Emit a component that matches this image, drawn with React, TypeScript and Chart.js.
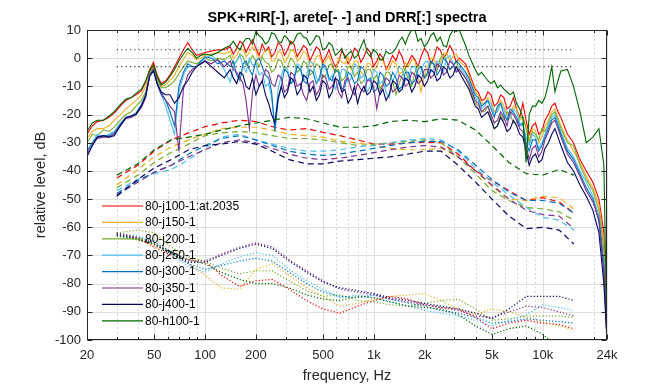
import React, { useEffect, useRef } from "react";
import { Chart, registerables } from "chart.js";

Chart.register(...registerables);

const FONT = "'Liberation Sans', Arial, Helvetica, sans-serif";
const W = 672;
const H = 384;
const CHART_LEFT = 87;
const CHART_RIGHT = 607;
const CHART_TOP = 30;
const CHART_BOTTOM = 340;

const TITLE = "SPK+RIR[-], arete[- -] and DRR[:] spectra";
const X_LABEL = "frequency, Hz";
const Y_LABEL = "relative level, dB";

const NAMES = ["80-j100-1:at.2035", "80-j150-1", "80-j200-1", "80-j250-1", "80-j300-1", "80-j350-1", "80-j400-1", "80-h100-1"];
const COLORS = ["#f00000", "#edb120", "#77ac30", "#4dbeee", "#0072bd", "#7e2f8e", "#05055e", "#006400"];

const X_TICKS = [20, 50, 100, 200, 500, 1000, 2000, 5000, 10000, 24000];
const X_TICK_LABELS = ["20", "50", "100", "200", "500", "1k", "2k", "5k", "10k", "24k"];
const X_MINOR = [30, 40, 60, 70, 80, 90, 300, 400, 600, 700, 800, 900, 3000, 4000, 6000, 7000, 8000, 9000, 20000];
const Y_TICKS = [-100, -90, -80, -70, -60, -50, -40, -30, -20, -10, 0, 10];

// solid (SPK+RIR) spectra: frequencies (low 29, mid 73, high 39)
const F_LOW = [20, 21.5, 23, 25, 27, 29, 31.5, 34, 36.5, 39, 42, 44.5, 47, 49.5, 52, 55, 58.5, 62, 66, 70, 74.5, 79, 84, 89, 94.5, 100, 109, 119, 130];
const F_MID = [
  141, 147, 154, 161, 168, 175, 183, 191, 200, 209,
  218, 228, 238, 248, 259, 271, 283, 295, 308, 322,
  336, 351, 367, 383, 400, 418, 436, 456, 476, 497,
  519, 542, 566, 591, 617, 645, 673, 703, 734, 767,
  800, 836, 873, 912, 952, 995, 1040, 1085, 1130, 1180,
  1230, 1290, 1350, 1410, 1470, 1535, 1600, 1675, 1750, 1825,
  1900, 1990, 2080, 2170, 2260, 2365, 2470, 2580, 2690, 2815,
  2940, 3070, 3200,
];
const F_HIGH = [
  3490, 3650, 3810, 3980, 4150, 4340, 4530, 4730, 4940, 5160,
  5390, 5630, 5880, 6140, 6410, 6700, 6990, 7300, 7620, 7960,
  8310, 8680, 9060, 9460, 9880, 10300, 10800, 11300, 11800, 12300,
  12800, 14000, 15200, 16600, 18100, 19800, 21500, 23000, 24000,
];
const F_SOLID = [...F_LOW, ...F_MID, ...F_HIGH];

const SPK_J100 = [
  -27, -24, -22.5, -22, -21, -19.5, -17, -15, -14, -13, -11.5, -8.5, -4, -1.5, -6, -9, -8, -6, -3, 0, 3, 5.5, 3, 1, 1.5, 2, 2.5, 3, 3,
  4, 1.5, 3.5, 6, 5, 2, 4.5, 6.5, 3.5, 1,
  5, 2.5, 4, 0.5, 2, 5.5, 4.5, 1, 3, 6,
  5, 0.5, 2.5, 4.5, 3.5, -1, 1.5, 4, 3, -1.5,
  0.5, 3, -0.5, -3, -1.5, 2.5, 1, -2, 0, 3.5,
  2.5, -1.5, 0.5, 3.5, 2, -3, -1, 1.5, 0, -4,
  -2, 1, -1, 2.5, 0.5, -3.5, -1.5, 1, -0.5, -3,
  0.5, 3.5, 2, -2, 0, 4, 3, 0, 1.5, 4.5,
  2.5, -1.5, 0,
  -2, -5, -8, -11, -12, -15, -14.5, -12, -13, -17,
  -16, -13, -14, -18, -17, -14, -18, -21, -16, -22,
  -27, -24, -23, -27, -26, -22, -20, -17, -16, -19,
  -21, -27, -30, -36, -40, -44, -50, -62, -100,
];
const SPK_J150 = [
  -28.5, -26, -25, -25, -24, -22, -20, -18, -16.5, -15, -13, -10, -5, -3, -7, -10, -9.5, -8, -6, -3, -0.5, 2, 1, -0.5, 0, 1, 1.5, 2, 1.5,
  2.5, 0, 1, 3.5, 3, 0.5, 2, 4, 2.5, -0.5,
  1, 3, 3, -1, -1, 2.5, 2, -1.5, 0, 3,
  2.5, -1, 0, 2.5, 1.5, -3, -2.5, 0.5, 1, -2.5,
  -1, 1, -3, -5, 0, -1.5, -2, 0.5, -4, -1,
  -1, -5, -6, -2, -2, -4.5, -3, 0, -1, -3.5,
  -4, -1, -2, -5.5, -5, -1.5, -3, -0.5, -1, -6,
  -12, -6, -3, 0, 0, -3, -1.5, 1.5, 2, -1,
  0.5, 1.5, -1,
  -3, -6, -9, -12, -13, -16, -16, -14, -15, -19,
  -18, -15, -17, -20, -20, -17, -18, -22, -21, -24,
  -29, -25, -26, -30, -28, -24, -22, -19, -18, -21,
  -24, -29, -33, -37, -42, -46, -52, -66, -100,
];
const SPK_J200 = [
  -30, -27, -27.5, -25.5, -26, -24.5, -22, -20, -19, -17, -15, -12, -5.5, -3.5, -7.5, -10.5, -10.5, -9.5, -8, -5.5, -3, -1, -1.5, -2, -1, 0, -1, 0, -0.5,
  1, -2, -1, 1.5, 0.5, -2.5, -1.5, 1, -1, -3,
  0.5, -1.5, -2, -5, -4, -0.5, -1, -4.5, -3, 0,
  -1, -5, -4, -1, -2, -6, -5, -2, -3, -7,
  -6, -2.5, -2, -5, -4, -8, -7, -3, -3, -6.5,
  -5, -9, -8, -4, -4, -7.5, -6, -11, -9, -5,
  -5, -8, -13, -9, -6, -3.5, -8, -10, -5, -2.5,
  -3, -7, -6, -2, -2, -4.5, 0, 1.5, -1, -4,
  -3, -1, -4,
  -7, -10, -13, -16, -17, -19, -19, -17, -21, -25,
  -24, -20, -22, -19, -20, -23, -23, -21, -21, -25,
  -30, -26, -27, -29, -25, -26, -23, -20, -19, -22,
  -25, -30, -31, -38, -43, -47, -54, -68, -100,
];
const SPK_J250 = [
  -33, -30, -27, -28, -27, -26, -23, -21, -21, -19.5, -16.5, -13, -6, -4, -9, -13, -17, -22, -27, -12, -6, -3, -3, -3, -1.5, 0, 1, -1, -4,
  -8.5, -3, -1, 1, -3, -5, 0, -2.5, -2, -6,
  -5, -10, -9, -14, -24, -11, -6, -3, -4, -9,
  -7, -2, -3, -8, -6, -1, -2, -7, -8, -3,
  -4, -8, -6, -11, -9, -4, -4, -8.5, -7, -2,
  -3, -7, -6, -12, -10, -4, -5, -9, -8, -12,
  -14, -8, -6, -3, -4, -8, -7, -3, -3, -7,
  -5, -1.5, -1, -5, -4, -1, -2, -5, 0, 1,
  -2, -4.5, -3,
  -6, -8, -11, -14, -15, -18, -17, -15, -16, -20,
  -19, -16, -18, -22, -21, -18, -19, -23, -24, -28,
  -31, -27, -28, -32, -30, -27, -24, -21, -20, -23,
  -26, -32, -35, -40, -44, -49, -56, -72, -100,
];
const SPK_J300 = [
  -33, -30, -28, -27.5, -27.5, -26.5, -23.5, -21, -20.5, -19.5, -16.5, -13, -6, -4, -8.5, -12, -15, -19, -24, -10, -5, -2, -3, -3, -1, 0.5, 0, -2, -1,
  -3, -1, -6, -8, -2, -1, -4, -6, -1, 0,
  -3, -6, -7, -12, -26, -15, -10, -4, -5, -9,
  -8, -3, -4, -8, -9, -4, -5, -9, -7, -2,
  -3, -7, -8, -4, -5, -11, -10, -5, -6, -9,
  -8, -3, -4, -8, -7, -12, -11, -5, -6, -10,
  -9, -5, -7, -11, -10, -5, -5, -9, -8, -4,
  -3, -7, -5, -1, -2, -6, -4, 0, -1, -4,
  -3, -1, -2,
  -5, -7, -10, -13, -14, -17, -16, -15, -18, -21,
  -17, -16, -20, -22, -18, -19, -21, -24, -23, -30,
  -33, -29, -29, -33, -31, -28, -25, -22, -21, -24,
  -27, -33, -36, -41, -46, -50, -58, -76, -100,
];
const SPK_J350 = [
  -34, -31, -28.5, -28, -28, -27, -24, -21.5, -21, -20, -17.5, -14, -6, -4, -9, -13, -15, -17, -19, -33, -11, -6, -4, -3, -2, -1, -2, -0.5, -3,
  -1, -4, -5, -7, -9, -15, -25, -12, -6, -10,
  -8, -4, -5, -9, -10, -6, -7, -12, -11, -5,
  -6, -10, -9, -13, -15, -9, -8, -13, -11, -6,
  -7, -11, -10, -7, -12, -14, -8, -7, -11, -13,
  -9, -11, -12, -8, -8, -10, -18, -12, -10, -7,
  -8, -12, -11, -6, -7, -10, -9, -5, -6, -9,
  -8, -4, -4, -7, -6, -2, -3, -6, -5, -1,
  -2, -5, -4,
  -7, -9, -12, -15, -16, -19, -18, -17, -20, -23,
  -22, -19, -21, -24, -19, -20, -22, -25, -26, -31,
  -36, -32, -31, -35, -33, -29, -26, -23, -22, -25,
  -28, -34, -37, -42, -47, -51, -57, -74, -100,
];
const SPK_J400 = [
  -35, -31, -28, -27.5, -28, -27.5, -24, -21, -20.5, -20, -17, -13.5, -6.5, -4.5, -9, -12, -13, -13, -16, -14, -10, -8, -5, -3, -2, -1, -3, -5, -7,
  -4, -7, -9, -5, -6, -10, -11, -7, -13, -10,
  -8, -13, -16, -20, -23, -14, -10, -14, -12, -7,
  -8, -13, -11, -6, -7, -12, -10, -15, -13, -8,
  -9, -14, -12, -7, -8, -12, -11, -16, -14, -10,
  -16, -12, -10, -13, -12, -8, -9, -13, -11, -15,
  -13, -8, -9, -12, -11, -7, -8, -12, -10, -6,
  -7, -10, -8, -4, -5, -8, -7, -3, -4, -7,
  -6, -3, -5,
  -9, -11, -14, -17, -18, -21, -20, -19, -22, -25,
  -24, -21, -23, -26, -25, -22, -24, -27, -28, -33,
  -38, -35, -34, -37, -36, -32, -30, -27, -25, -28,
  -31, -37, -40, -45, -49, -54, -62, -80, -100,
];
const SPK_H100 = [
  -26, -23, -22, -22, -20.5, -19, -16.5, -14.5, -14, -12.5, -11, -8, -4.5, -2.5, -6.5, -9.5, -8.5, -6.5, -4, -1, 1.5, 3.5, 2, 0, 1, 1.5, 1, 2, 3.5,
  4.5, 6, 4, 3, 5.5, 7, 7, 5, 9.5, 8,
  7, 5, 6, 9, 8.5, 6, 5.5, 8, 7, 5,
  6, 8.5, 9, 7.5, 7, 4.5, 6, 8, 7.5, 3,
  3.5, 5.5, 4.5, 1, 2, 3.5, 0, 1.5, 2.5, 0,
  1, 4, 6.5, 2, 0.5, 3, 2, -0.5, -0.5, 2.5,
  1.5, 2, 3.5, 6, 7.5, 5, 8, 10, 10, 6,
  7, 4, 5.5, 8, 9, 6, 7.5, 4.5, 4, 8,
  10, 9.5, 10,
  4.5, 1, -1.5, -4, -6, -5, -6.5, -8, -9, -8,
  -10.5, -9.5, -11, -12, -13, -12, -16, -18, -21, -37,
  -20, -17, -17, -15, -16, -14, -9, -3, -12, -8,
  -4.5, -4, -10, -19, -30, -28, -25, -38, -100,
];

// dashed (arete) and dotted (DRR) spectra, third-octave bands
const F_BANDS = [30, 40, 50, 63, 80, 100, 125, 160, 200, 250, 315, 400, 500, 630, 800, 1000, 1250, 1600, 2000, 2500, 3150, 4000, 5000, 6300, 8000, 10000, 12500, 15300];

const ARETE_J100 = [-42.5, -38, -33, -29, -26.5, -24.3, -23, -22, -22.5, -24.3, -25.5, -25, -26.3, -27.5, -29, -30.5, -30.5, -30, -29.8, -30, -34, -40, -43.5, -47, -50.5, -49.5, -51, -55];
const ARETE_J150 = [-45, -39.5, -35, -31.5, -29, -27, -25, -24.5, -24.5, -25.5, -27, -27.5, -28, -29.5, -30, -31, -32, -32.5, -32.5, -32, -35, -40, -45.5, -50, -50.5, -49, -49.5, -53.5];
const ARETE_J200 = [-46, -41.5, -37, -33.5, -30.5, -27.5, -26.5, -26, -26.5, -27.5, -28.5, -28.5, -29, -30, -31, -30.5, -30, -29.5, -29, -30, -35, -41, -47, -50.5, -53, -53.5, -54.5, -57.5];
const ARETE_J250 = [-47, -43, -41, -39.5, -36, -32, -28, -27, -29, -30.5, -32, -33, -33, -32.5, -31.5, -31, -30, -29, -28.5, -29, -33, -39, -44, -48.5, -53, -56.5, -57.5, -61];
const ARETE_J300 = [-48, -43.5, -40.5, -38, -34, -31, -28.5, -27.5, -29, -31, -33, -34, -34.5, -34, -33, -32, -31, -30, -29.5, -29.5, -32.5, -38, -43, -47.5, -50.5, -50.5, -51.5, -55];
const ARETE_J350 = [-48.5, -44, -40.5, -38, -35, -32.5, -30, -29, -30, -32, -34, -35.5, -36, -35.5, -34.5, -33.5, -32.5, -31.5, -31, -31.5, -35, -40, -45, -50, -54, -55.5, -56, -60.5];
const ARETE_J400 = [-49, -43, -39, -36, -32.5, -31, -30.5, -29.5, -30.5, -33, -36, -37.5, -37.5, -36.5, -36, -35.5, -35, -34, -33, -33, -38, -44, -50, -56, -60.5, -60, -61, -66];
const ARETE_H100 = [-41.5, -37.5, -32.5, -29, -28, -27, -25.5, -24, -23, -22, -21, -21.5, -23, -24.5, -24.5, -24, -22.5, -22, -22.5, -21.5, -22, -25.5, -31, -37, -41, -41.5, -39.5, -41.5];

const DRR_J100 = [-62, -64, -67, -70, -71.5, -72, -77, -81, -79, -78.5, -82, -86, -89, -90.5, -88, -86, -84.5, -85.5, -87.5, -88.5, -89, -92, -96, -94, -93, -94, -94.5, -96];
const DRR_J150 = [-63, -64.5, -66.5, -69, -73, -77, -81.5, -82, -75, -73, -77, -81.5, -84.5, -88, -87, -85.5, -84.5, -84, -83.5, -86, -89, -91, -89, -90, -92, -93.5, -95, -96.5];
const DRR_J200 = [-62, -61, -62, -67, -70.5, -72, -74.5, -76.5, -75.5, -75.5, -79, -82.5, -84.5, -84, -86, -86.5, -87.5, -88, -87, -86, -85.5, -89, -93, -92.5, -91.5, -91.5, -91.5, -92];
const DRR_J250 = [-62.5, -63, -65, -69, -74, -76, -73, -70.5, -69, -70, -75, -79, -82, -85, -84, -85, -86.5, -88, -89.5, -90.5, -91.5, -93, -95, -93, -91, -87.5, -88.5, -89.5];
const DRR_J300 = [-63, -64, -66, -69.5, -73, -75, -73.5, -72, -71, -72, -76, -80, -83, -84.5, -85, -84, -85.5, -87, -88, -89.5, -90.5, -92, -94, -93.5, -92.5, -93, -93.5, -94];
const DRR_J350 = [-62, -63.5, -65.5, -68.5, -72, -72, -69.5, -67, -65.5, -67, -71.5, -75.5, -79, -82, -83, -84, -85.5, -86.5, -87.5, -88.5, -89.5, -91.5, -92, -90, -88, -88.5, -90, -91.5];
const DRR_J400 = [-62.5, -64, -66, -69, -72.5, -72.5, -70, -67.5, -66, -67.5, -72, -76, -79.5, -81.5, -82.5, -83.5, -85, -86, -87, -88, -89, -90.5, -92.5, -89, -84.5, -84.5, -84.5, -86];
const DRR_H100 = [-63, -64.5, -66, -69, -71.5, -73, -76, -78.5, -80, -80, -81.5, -84, -85.5, -86, -84.5, -85, -86.5, -88, -88.5, -89, -91, -95, -98, -96, -95, -98, -103];

// black dotted reference levels
const REF_LEVELS = [3, -3];
const REF_SPAN = [30, 15300];

const SPK = [SPK_J100, SPK_J150, SPK_J200, SPK_J250, SPK_J300, SPK_J350, SPK_J400, SPK_H100];
const ARETE = [ARETE_J100, ARETE_J150, ARETE_J200, ARETE_J250, ARETE_J300, ARETE_J350, ARETE_J400, ARETE_H100];
const DRR = [DRR_J100, DRR_J150, DRR_J200, DRR_J250, DRR_J300, DRR_J350, DRR_J400, DRR_H100];

function toXY(xs: number[], ys: number[]) {
  const n = Math.min(xs.length, ys.length);
  const out: { x: number; y: number }[] = [];
  for (let i = 0; i < n; i++) out.push({ x: xs[i], y: ys[i] });
  return out;
}

const matlabPlugin = {
  id: "matlabLook",
  beforeDatasetsDraw(chart: any) {
    const { ctx, chartArea: a, scales } = chart;
    const x = scales.x;
    const y = scales.y;
    ctx.save();
    ctx.lineWidth = 1;
    ctx.strokeStyle = "#dfdfdf";
    for (const v of Y_TICKS) {
      const py = Math.round(y.getPixelForValue(v)) + 0.5;
      ctx.beginPath();
      ctx.moveTo(a.left, py);
      ctx.lineTo(a.right, py);
      ctx.stroke();
    }
    for (const v of X_TICKS) {
      const px = Math.round(x.getPixelForValue(v)) + 0.5;
      ctx.beginPath();
      ctx.moveTo(px, a.top);
      ctx.lineTo(px, a.bottom);
      ctx.stroke();
    }
    ctx.setLineDash([2, 2.5]);
    ctx.strokeStyle = "#d2d2d2";
    for (const v of X_MINOR) {
      const px = Math.round(x.getPixelForValue(v)) + 0.5;
      ctx.beginPath();
      ctx.moveTo(px, a.top);
      ctx.lineTo(px, a.bottom);
      ctx.stroke();
    }
    ctx.restore();
  },
  afterDatasetsDraw(chart: any) {
    const { ctx, chartArea: a, scales } = chart;
    const x = scales.x;
    const y = scales.y;
    ctx.save();
    ctx.strokeStyle = "#262626";
    ctx.lineWidth = 1;
    const l = Math.round(a.left) + 0.5;
    const r = Math.round(a.right) - 0.5;
    const t = Math.round(a.top) + 0.5;
    const b = Math.round(a.bottom) - 0.5;
    ctx.beginPath();
    for (const v of X_TICKS) {
      const px = Math.round(x.getPixelForValue(v)) + 0.5;
      ctx.moveTo(px, b);
      ctx.lineTo(px, b - 5);
      ctx.moveTo(px, t);
      ctx.lineTo(px, t + 5);
    }
    for (const v of X_MINOR) {
      const px = Math.round(x.getPixelForValue(v)) + 0.5;
      ctx.moveTo(px, b);
      ctx.lineTo(px, b - 2.5);
      ctx.moveTo(px, t);
      ctx.lineTo(px, t + 2.5);
    }
    for (const v of Y_TICKS) {
      const py = Math.round(y.getPixelForValue(v)) + 0.5;
      ctx.moveTo(l, py);
      ctx.lineTo(l + 5, py);
      ctx.moveTo(r, py);
      ctx.lineTo(r - 5, py);
    }
    ctx.stroke();
    ctx.strokeRect(l, t, r - l, b - t);

    // legend (inside the axes, no box)
    ctx.font = `12px ${FONT}`;
    ctx.textBaseline = "middle";
    ctx.textAlign = "left";
    NAMES.forEach((name, i) => {
      const ly = 206 + i * 16.4;
      ctx.strokeStyle = COLORS[i];
      ctx.lineWidth = 1.2;
      ctx.beginPath();
      ctx.moveTo(102, ly);
      ctx.lineTo(143, ly);
      ctx.stroke();
      ctx.fillStyle = "#000000";
      ctx.fillText(name, 145, ly + 0.5);
    });
    ctx.restore();
  },
  afterDraw(chart: any) {
    const { ctx, chartArea: a } = chart;
    ctx.save();
    ctx.fillStyle = "#000000";
    ctx.textAlign = "center";
    ctx.textBaseline = "alphabetic";
    ctx.font = `bold 14.5px ${FONT}`;
    ctx.fillText(TITLE, (a.left + a.right) / 2, 22);
    ctx.fillStyle = "#262626";
    ctx.font = `14.5px ${FONT}`;
    ctx.fillText(X_LABEL, (a.left + a.right) / 2, 380);
    ctx.translate(45, (a.top + a.bottom) / 2);
    ctx.rotate(-Math.PI / 2);
    ctx.fillText(Y_LABEL, 0, 0);
    ctx.restore();
  },
};

export default function App() {
  const ref = useRef<HTMLCanvasElement>(null);

  useEffect(() => {
    const canvas = ref.current;
    if (!canvas) return;
    const datasets: any[] = [];
    let ord = 1000;
    NAMES.forEach((name, i) => {
      datasets.push({
        label: name,
        data: toXY(F_SOLID, SPK[i]),
        borderColor: COLORS[i],
        borderWidth: 1.1,
        pointRadius: 0,
        fill: false,
        tension: 0,
        order: ord--,
      });
      datasets.push({
        label: name + " arete",
        data: toXY(F_BANDS, ARETE[i]),
        borderColor: COLORS[i],
        borderWidth: 1.2,
        borderDash: [6, 4],
        pointRadius: 0,
        fill: false,
        tension: 0,
        order: ord--,
      });
      datasets.push({
        label: name + " DRR",
        data: toXY(F_BANDS, DRR[i]),
        borderColor: COLORS[i],
        borderWidth: 1.2,
        borderDash: [1.2, 2],
        pointRadius: 0,
        fill: false,
        tension: 0,
        order: ord--,
      });
    });
    REF_LEVELS.forEach((lv, i) => {
      datasets.push({
        label: "ref" + i,
        data: REF_SPAN.map((f) => ({ x: f, y: lv })),
        borderColor: "#333333",
        borderWidth: 1.1,
        borderDash: [1.2, 3.2],
        pointRadius: 0,
        fill: false,
        order: ord--,
      });
    });

    const chart = new Chart(canvas, {
      type: "line",
      data: { datasets },
      options: {
        responsive: false,
        animation: false,
        devicePixelRatio: 1,
        events: [],
        layout: { padding: { left: 0, right: W - CHART_RIGHT, top: CHART_TOP, bottom: 0 } },
        plugins: {
          legend: { display: false },
          title: { display: false },
          tooltip: { enabled: false },
        },
        scales: {
          x: {
            type: "logarithmic",
            min: 20,
            max: 24000,
            grid: { display: false, drawTicks: false },
            border: { display: false },
            afterBuildTicks: (s: any) => {
              s.ticks = X_TICKS.map((v) => ({ value: v }));
            },
            afterFit: (s: any) => {
              s.height = H - CHART_BOTTOM;
            },
            ticks: {
              autoSkip: false,
              maxRotation: 0,
              minRotation: 0,
              padding: 8,
              color: "#262626",
              font: { family: FONT, size: 13 },
              callback: (_v: any, i: number) => X_TICK_LABELS[i],
            },
          },
          y: {
            type: "linear",
            min: -100,
            max: 10,
            grid: { display: false, drawTicks: false },
            border: { display: false },
            afterFit: (s: any) => {
              s.width = CHART_LEFT;
            },
            ticks: {
              stepSize: 10,
              padding: 6,
              color: "#262626",
              font: { family: FONT, size: 13 },
              callback: (v: any) => String(v),
            },
          },
        },
      } as any,
      plugins: [matlabPlugin as any],
    });
    return () => chart.destroy();
  }, []);

  return (
    <div style={{ position: "fixed", left: 0, top: 0, width: W, height: H, background: "#ffffff" }}>
      <canvas ref={ref} width={W} height={H} style={{ display: "block", width: W, height: H }} />
    </div>
  );
}
